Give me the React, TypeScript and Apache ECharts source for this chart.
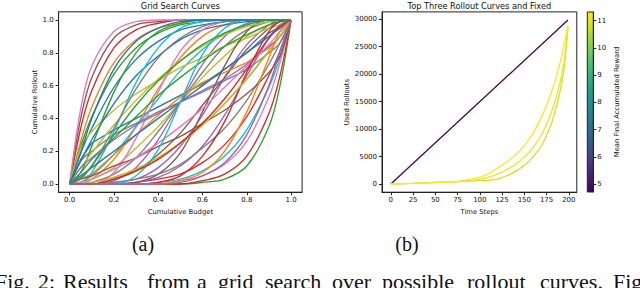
import React, { useEffect, useRef } from 'react';
import * as echarts from 'echarts';

// ---------- Left panel: grid-search curves ----------
const BUDGET_X = [0, 0.05, 0.1, 0.2, 0.3, 0.4, 0.5, 0.6, 0.7, 0.8, 0.9, 0.95, 1];
const CURVES: number[][] = [
  [0, 0.15, 0.25, 0.33, 0.4, 0.47, 0.54, 0.61, 0.7, 0.8, 0.92, 0.96, 1],
  [0, 0, 0.03, 0.15, 0.35, 0.58, 0.77, 0.9, 0.97, 1, 1, 1, 1],
  [0, 0, 0, 0, 0, 0, 0, 0.01, 0.03, 0.11, 0.35, 0.6, 1],
  [0, 0.34, 0.57, 0.83, 0.94, 0.98, 1, 1, 1, 1, 1, 1, 1],
  [0, 0, 0, 0.01, 0.03, 0.1, 0.23, 0.42, 0.65, 0.85, 0.97, 1, 1],
  [0, 0.4, 0.65, 0.89, 0.97, 0.99, 1, 1, 1, 1, 1, 1, 1],
  [0, 0.46, 0.72, 0.93, 0.99, 1, 1, 1, 1, 1, 1, 1, 1],
  [0, 0.14, 0.2, 0.3, 0.37, 0.44, 0.5, 0.56, 0.63, 0.7, 0.8, 0.86, 1],
  [0, 0.01, 0.03, 0.1, 0.22, 0.35, 0.5, 0.65, 0.78, 0.9, 0.97, 0.99, 1],
  [0, 0.01, 0.05, 0.18, 0.35, 0.52, 0.69, 0.82, 0.92, 0.97, 1, 1, 1],
  [0, 0.19, 0.34, 0.59, 0.76, 0.87, 0.94, 0.97, 0.99, 1, 1, 1, 1],
  [0, 0.26, 0.47, 0.74, 0.88, 0.95, 0.98, 1, 1, 1, 1, 1, 1],
  [0, 0.23, 0.41, 0.67, 0.83, 0.92, 0.97, 0.99, 1, 1, 1, 1, 1],
  [0, 0, 0, 0, 0, 0, 0, 0.02, 0.06, 0.17, 0.43, 0.66, 1],
  [0, 0, 0, 0.02, 0.1, 0.27, 0.5, 0.73, 0.9, 0.98, 1, 1, 1],
  [0, 0, 0, 0.03, 0.08, 0.18, 0.31, 0.48, 0.65, 0.82, 0.95, 0.99, 1],
  [0, 0, 0, 0, 0, 0, 0.02, 0.05, 0.12, 0.26, 0.53, 0.74, 1],
  [0, 0, 0.01, 0.06, 0.16, 0.32, 0.5, 0.68, 0.84, 0.94, 0.99, 1, 1],
  [0, 0.22, 0.32, 0.45, 0.55, 0.63, 0.71, 0.77, 0.84, 0.89, 0.95, 0.97, 1],
  [0, 0, 0, 0, 0, 0.01, 0.03, 0.08, 0.17, 0.33, 0.59, 0.77, 1],
  [0, 0.14, 0.27, 0.49, 0.66, 0.78, 0.88, 0.94, 0.97, 0.99, 1, 1, 1],
  [0, 0.03, 0.06, 0.18, 0.3, 0.42, 0.53, 0.62, 0.68, 0.74, 0.83, 0.9, 1],
  [0, 0.07, 0.23, 0.56, 0.8, 0.93, 0.98, 1, 1, 1, 1, 1, 1],
  [0, 0, 0, 0, 0.01, 0.03, 0.06, 0.13, 0.24, 0.41, 0.66, 0.81, 1],
  [0, 0, 0, 0, 0.01, 0.04, 0.11, 0.23, 0.42, 0.66, 0.89, 0.97, 1],
  [0, 0, 0, 0, 0.01, 0.06, 0.19, 0.44, 0.72, 0.93, 1, 1, 1],
  [0, 0, 0, 0.07, 0.28, 0.56, 0.81, 0.94, 0.99, 1, 1, 1, 1],
  [0, 0, 0, 0.01, 0.03, 0.06, 0.12, 0.22, 0.34, 0.51, 0.73, 0.86, 1],
  [0, 0.1, 0.19, 0.36, 0.51, 0.64, 0.75, 0.84, 0.91, 0.96, 0.99, 1, 1],
  [0, 0.01, 0.07, 0.32, 0.62, 0.83, 0.95, 0.99, 1, 1, 1, 1, 1],
  [0, 0.05, 0.1, 0.2, 0.3, 0.4, 0.5, 0.6, 0.7, 0.8, 0.9, 0.95, 1],
  [0, 0, 0.01, 0.04, 0.09, 0.16, 0.25, 0.36, 0.49, 0.64, 0.81, 0.9, 1],
  [0, 0.07, 0.15, 0.28, 0.41, 0.54, 0.65, 0.75, 0.84, 0.91, 0.97, 0.99, 1],
  [0, 0, 0, 0, 0, 0.01, 0.05, 0.17, 0.38, 0.68, 0.93, 0.99, 1],
  [0, 0.1, 0.16, 0.27, 0.36, 0.43, 0.5, 0.57, 0.64, 0.73, 0.84, 0.9, 1],
  [0, 0.03, 0.05, 0.11, 0.16, 0.23, 0.29, 0.37, 0.45, 0.55, 0.68, 0.78, 1],
  [0, 0.01, 0.03, 0.09, 0.16, 0.25, 0.35, 0.46, 0.59, 0.72, 0.85, 0.93, 1],
  [0, 0.03, 0.11, 0.34, 0.58, 0.77, 0.89, 0.96, 0.99, 1, 1, 1, 1],
  [0, 0, 0.01, 0.04, 0.09, 0.16, 0.25, 0.36, 0.49, 0.64, 0.81, 0.9, 1],
  [0, 0, 0, 0, 0.05, 0.21, 0.5, 0.79, 0.95, 1, 1, 1, 1],
  [0, 0.19, 0.4, 0.7, 0.87, 0.95, 0.99, 1, 1, 1, 1, 1, 1],
  [0, 0, 0, 0, 0, 0, 0.02, 0.07, 0.2, 0.44, 0.77, 0.93, 1],
  [0, 0.04, 0.11, 0.3, 0.48, 0.63, 0.75, 0.85, 0.92, 0.97, 1, 1, 1],
  [0, 0, 0, 0.03, 0.08, 0.15, 0.25, 0.37, 0.52, 0.7, 0.89, 0.96, 1],
  [0, 0, 0, 0, 0, 0, 0.01, 0.05, 0.13, 0.3, 0.6, 0.81, 1],
];
const KINKED = [0, 21];
const TAB10 = ['#1f77b4', '#ff7f0e', '#2ca02c', '#d62728', '#9467bd', '#8c564b', '#e377c2', '#7f7f7f', '#bcbd22', '#17becf'];
const LEFT_TICKS = [0, 0.2, 0.4, 0.6, 0.8, 1.0];

// ---------- Right panel: top three rollout curves and fixed ----------
const STEPS = [0, 25, 50, 75, 100, 110, 120, 130, 140, 150, 160, 170, 180, 185, 190, 195, 199];
const ROLLOUT_A = [0, 120, 280, 480, 1250, 1900, 2900, 4000, 5300, 7000, 9300, 12500, 16500, 19000, 22000, 25500, 28900];
const ROLLOUT_B = [0, 120, 280, 450, 850, 1250, 1800, 2600, 3600, 4900, 6700, 9200, 12900, 15400, 18400, 22600, 28800];
const ROLLOUT_C = [0, 110, 270, 420, 600, 680, 900, 1500, 2300, 3400, 5000, 7200, 10800, 13500, 16800, 21500, 28400];
const FIXED_STEPS = [0, 199];
const FIXED_VALUES = [0, 29850];
const ROLLOUT_COLORS = ['#fde725', '#f1e51d', '#d2e21b'];
const FIXED_COLOR = '#440154';
const STEP_TICKS = [0, 25, 50, 75, 100, 125, 150, 175, 200];
const ROLLOUT_TICKS = [0, 5000, 10000, 15000, 20000, 25000, 30000];
const REWARD_TICKS = [5, 6, 7, 8, 9, 10, 11];
const REWARD_MIN = 4.71;
const REWARD_MAX = 11.32;
const VIRIDIS = ['#440154', '#482475', '#414487', '#355f8d', '#2a788e', '#21918c', '#22a884', '#44bf70', '#7ad151', '#bddf26', '#fde725'];

// ---------- Captions ----------
const CAPTION_WORDS = ['Fig.', '2:', 'Results', 'from', 'a', 'grid', 'search', 'over', 'possible', 'rollout', 'curves.', 'Fig'];
const CAPTION_X = [-5, 38, 63, 147, 197, 218, 265, 332, 382, 467, 540, 613];

const FONT = 'DejaVu Sans';
const INK = '#111';
const SPINE = '#222';

function axisCommon(ticks: number[], fmt: (v: number) => string, margin: number) {
  return {
    axisLine: { show: true, onZero: false, lineStyle: { color: SPINE, width: 1 } },
    axisTick: { show: true, length: 3, customValues: ticks, lineStyle: { color: SPINE, width: 1 } },
    axisLabel: { customValues: ticks, formatter: fmt, margin, fontSize: 7, color: INK, fontFamily: FONT },
    splitLine: { show: false },
    nameTextStyle: { fontSize: 6.8, color: INK, fontFamily: FONT },
  };
}

export default function App() {
  const ref = useRef<HTMLDivElement>(null);
  useEffect(() => {
    if (!ref.current) return;
    const chart = echarts.init(ref.current, undefined, { renderer: 'svg' });

    const leftSeries = CURVES.map((vals, i) => ({
      type: 'line',
      xAxisIndex: 0,
      yAxisIndex: 0,
      data: vals.map((v, j) => [BUDGET_X[j], v]),
      smooth: KINKED.includes(i) ? false : 0.35,
      showSymbol: false,
      symbol: 'none',
      silent: true,
      lineStyle: { color: TAB10[i % 10], width: 1.35 },
    }));

    const rollouts = [ROLLOUT_C, ROLLOUT_B, ROLLOUT_A];
    const rolloutColors = [ROLLOUT_COLORS[2], ROLLOUT_COLORS[1], ROLLOUT_COLORS[0]];
    const rightSeries = [
      {
        type: 'line', xAxisIndex: 1, yAxisIndex: 1, symbol: 'none', silent: true,
        data: FIXED_VALUES.map((v, j) => [FIXED_STEPS[j], v]),
        lineStyle: { color: FIXED_COLOR, width: 1.3 },
      },
      ...rollouts.map((vals, k) => ({
        type: 'line', xAxisIndex: 1, yAxisIndex: 1, symbol: 'none', silent: true,
        smooth: 0.3,
        data: vals.map((v, j) => [STEPS[j], v]),
        lineStyle: { color: rolloutColors[k], width: 1.3 },
      })),
      { type: 'line', xAxisIndex: 2, yAxisIndex: 2, data: [], symbol: 'none', silent: true },
    ];

    const gradient = new echarts.graphic.LinearGradient(0, 1, 0, 0,
      VIRIDIS.map((c, i) => ({ offset: i / (VIRIDIS.length - 1), color: c })));

    const graphics: any[] = [
      { type: 'text', style: { text: 'Grid Search Curves', x: 180.3, y: 6, align: 'center', verticalAlign: 'middle', fill: INK, font: `8.2px "${FONT}"` } },
      { type: 'text', style: { text: 'Top Three Rollout Curves and Fixed', x: 479.4, y: 6, align: 'center', verticalAlign: 'middle', fill: INK, font: `8.2px "${FONT}"` } },
      { type: 'text', style: { text: '(a)', x: 143, y: 244, align: 'center', verticalAlign: 'middle', fill: INK, font: '20px "Liberation Serif"' } },
      { type: 'text', style: { text: '(b)', x: 407, y: 244, align: 'center', verticalAlign: 'middle', fill: INK, font: '20px "Liberation Serif"' } },
      ...CAPTION_WORDS.map((w, i) => ({
        type: 'text', style: { text: w, x: CAPTION_X[i], y: 281.5, align: 'left', verticalAlign: 'middle', fill: INK, font: '22px "Liberation Serif"' },
      })),
    ];

    chart.setOption({
      animation: false,
      backgroundColor: '#ffffff',
      grid: [
        { left: 58.6, top: 11.8, width: 243.5, height: 180.4, show: true, borderColor: SPINE, borderWidth: 1, backgroundColor: 'transparent' },
        { left: 382, top: 11.9, width: 194.8, height: 180.3, show: true, borderColor: SPINE, borderWidth: 1, backgroundColor: 'transparent' },
        { left: 587.3, top: 12, width: 6, height: 180, show: true, borderColor: SPINE, borderWidth: 1, backgroundColor: gradient },
      ],
      xAxis: [
        { gridIndex: 0, type: 'value', min: -0.05, max: 1.05, name: 'Cumulative Budget', nameLocation: 'middle', nameGap: 13,
          ...axisCommon(LEFT_TICKS, (v: number) => v.toFixed(1), 4) },
        { gridIndex: 1, type: 'value', min: -9.95, max: 208.95, name: 'Time Steps', nameLocation: 'middle', nameGap: 13,
          ...axisCommon(STEP_TICKS, (v: number) => String(v), 4) },
        { gridIndex: 2, type: 'value', min: 0, max: 1, show: false },
      ],
      yAxis: [
        { gridIndex: 0, type: 'value', min: -0.05, max: 1.05, name: 'Cumulative Rollout', nameLocation: 'middle', nameGap: 17, nameRotate: 90,
          ...axisCommon(LEFT_TICKS, (v: number) => v.toFixed(1), 5) },
        { gridIndex: 1, type: 'value', min: -1492, max: 31342, name: 'Used Rollouts', nameLocation: 'middle', nameGap: 29, nameRotate: 90,
          ...axisCommon(ROLLOUT_TICKS, (v: number) => String(v), 5) },
        { gridIndex: 2, type: 'value', position: 'right', min: REWARD_MIN, max: REWARD_MAX, name: 'Mean Final Accumulated Reward', nameLocation: 'middle', nameGap: 20, nameRotate: 90,
          ...axisCommon(REWARD_TICKS, (v: number) => String(v), 4) },
      ],
      series: [...leftSeries, ...rightSeries],
      graphic: graphics,
    });
    return () => chart.dispose();
  }, []);
  return <div ref={ref} style={{ position: 'absolute', left: 0, top: 0, width: 640, height: 288, background: '#fff' }} />;
}
